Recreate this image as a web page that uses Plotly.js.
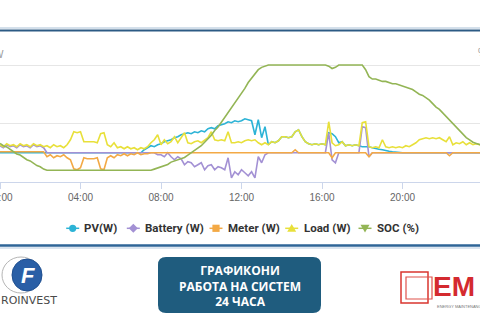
<!DOCTYPE html>
<html>
<head>
<meta charset="utf-8">
<script src="https://cdn.plot.ly/plotly-3.0.1.min.js"></script>
<style>
html,body{margin:0;padding:0;background:#fff;overflow:hidden;}
#chart{width:480px;height:320px;}
</style>
</head>
<body>
<div id="chart"></div>
<script>
// ---- data (10-minute samples, 00:00 .. 24:00) ----
const seriesNames = ["PV(W)", "Battery (W)", "Meter (W)", "Load (W)", "SOC (%)"];
const tickLabels = ["00:00", "04:00", "08:00", "12:00", "16:00", "20:00"];

const pv = [
  0,0,0,0,0,0,0,0,0,0,0,0,0,0,0,0,0,0,0,0,0,0,0,0,0,0,0,0,0,0,0,0,0,0,0,0,0,0,0,0,0,0,0,
  51,86,120,103,137,154,188,205,222,257,274,308,325,342,325,359,342,376,359,410,428,410,462,479,496,530,513,547,530,547,581,564,547,308,564,257,445,
  137,188,171,205,274,274,257,274,359,393,274,188,154,137,154,137,154,137,
  342,325,274,171,
  188,120,137,120,137,120,
  103,103,103,86,68,60,51,34,26,17,9,
  0,0,0,0,0,0,0,0,0,0,0,0,0,0,0,0,0,0,0,0,0,0,0,0,0,0
];
const battery = [
  120,86,137,103,120,86,137,103,120,86,137,103,120,86,
  0,0,0,0,0,0,0,0,0,0,0,0,0,0,0,0,0,0,0,0,0,0,0,0,0,0,0,0,0,0,0,0,0,
  -34,-34,-68,0,-68,-120,-68,-103,-205,-154,-171,-239,-205,-171,-291,-222,-205,-291,-239,-257,-291,-86,-428,-325,-376,-291,-342,-393,-325,-428,-68,-171,-34,
  0,0,0,0,0,0,0,0,0,0,0,0,0,0,0,0,0,0,
  342,-120,-171,0,
  0,0,0,0,0,0,
  445,428,-68,
  0,0,0,0,0,0,0,0,0,0,0,0,0,0,0,0,0,0,0,0,0,0,0,0,0,0,0,0,0,0,0,0,0,0
];
const meter = [
  17,17,17,17,17,17,17,17,17,17,17,17,17,17,
  -68,-34,-86,-51,-68,-34,-86,-120,-274,-291,-257,-86,-103,-103,-103,-86,-274,-291,-86,-51,-86,-34,-51,-17,-51,-17,-34,0,-34,-17,-17,
  0,0,0,0,0,0,0,0,0,0,0,0,0,0,0,0,0,0,0,0,0,0,0,0,0,0,0,0,0,0,0,0,0,0,0,0,0,0,0,0,0,0,0,
  51,
  0,0,0,0,0,0,0,0,0,0,
  -86,
  0,0,0,0,0,0,0,0,0,0,
  -68,
  0,0,0,0,0,0,0,0,0,0,0,0,0,0,0,0,0,0,0,0,0,0,0,
  -51,
  0,0,0,0,0,0,0,0,0,0
];
const load = [
  137,103,154,120,137,103,154,120,137,103,154,120,137,103,
  120,86,137,103,120,86,137,
  222,359,342,359,188,188,188,188,171,325,342,137,103,171,86,103,68,103,68,86,51,86,68,103,
  171,222,308,137,222,154,188,274,171,257,342,171,154,188,205,171,222,257,359,222,205,222,205,359,171,171,188,171,205,222,205,222,171,137,171,
  137,188,171,205,274,274,257,274,359,393,274,188,154,137,154,137,154,137,
  530,171,120,137,
  188,120,137,120,137,120,
  513,530,103,86,103,86,222,103,86,103,86,103,86,120,103,137,171,222,239,257,239,257,239,257,222,188,274,137,171,154,188,137,171,137,154,137,137
];
const soc = [
  33,31,30,28,26,24,23,21,19,18,16,14,13,11,
  10,10,10,10,10,10,10,10,10,10,10,10,10,10,10,10,10,10,10,10,10,10,10,10,10,10,10,10,10,10,10,10,
  11,12,13,14,15,17,18,19,20,21,23,25,27,29,31,34,37,40,44,47,51,55,59,63,67,71,75,80,85,89,93,96,98,99,
  100,100,100,100,100,100,100,100,100,100,100,100,100,100,100,100,100,100,
  99,97,98,100,
  100,100,100,100,100,100,100,
  96,90,88,88,87,86,86,85,84,84,83,82,81,80,79,77,75,74,72,70,67,64,62,59,56,53,50,47,44,41,38,36,34,33,32,31
];

// time stamps for the samples
const times = [];
for (let i = 0; i < soc.length; i++) {
  const d = new Date(Date.UTC(2024, 0, 1, 0, i * 10));
  times.push(d.toISOString().slice(0, 16).replace('T', ' '));
}

const colors = ["#2cb3d6", "#a391d4", "#f3a945", "#e8e03a", "#93b555"];
const seriesData = [pv, battery, meter, load, soc];

const SANS = "'Liberation Sans', Arial, sans-serif";
const LEG = "Roboto, 'Liberation Sans', Arial, sans-serif";

const traces = seriesData.map((vals, k) => ({
  x: times, y: vals, type: 'scatter', mode: 'lines', name: seriesNames[k],
  line: {color: colors[k], width: 1.6},
  yaxis: k === 4 ? 'y2' : 'y',
  hoverinfo: 'skip'
}));

// px helpers for layout decorations (plot area: y 45..182, x 0..480)
const PX = x => x / 480;
const PY = y => (182 - y) / 137;

function roundRect(x0, y0, x1, y1, r) {
  const a = PX(x0), b = PX(x1), t = PY(y0), u = PY(y1);
  const rx = r / 480, ry = r / 137;
  return `M${a+rx},${t} L${b-rx},${t} Q${b},${t} ${b},${t-ry} L${b},${u+ry} Q${b},${u} ${b-rx},${u} L${a+rx},${u} Q${a},${u} ${a},${u+ry} L${a},${t-ry} Q${a},${t} ${a+rx},${t} Z`;
}
function poly(pts) {
  return 'M' + pts.map(p => PX(p[0]) + ',' + PY(p[1])).join(' L') + ' Z';
}

const shapes = [
  {type:'line', xref:'paper', yref:'paper', x0:0, x1:1, y0:PY(28), y1:PY(28), line:{color:'#a9c0d6', width:1}},
  {type:'line', xref:'paper', yref:'paper', x0:0, x1:1, y0:PY(30.5), y1:PY(30.5), line:{color:'#2c5a84', width:2}},
  {type:'line', xref:'paper', yref:'paper', x0:0, x1:1, y0:PY(245.5), y1:PY(245.5), line:{color:'#2e6597', width:2.5}},
  {type:'line', xref:'paper', yref:'paper', x0:0, x1:1, y0:PY(248), y1:PY(248), line:{color:'#b7cbe0', width:1}},
  {type:'path', xref:'paper', yref:'paper', path: roundRect(158, 257, 321, 313, 8), fillcolor:'#1f5c7e', line:{width:0}},
  {type:'circle', xref:'paper', yref:'paper', x0:PX(2), x1:PX(40), y0:PY(257), y1:PY(293), line:{color:'#b5b5b5', width:1}},
  {type:'circle', xref:'paper', yref:'paper', x0:PX(12), x1:PX(42), y0:PY(259), y1:PY(291), fillcolor:'#2a5fa6', line:{color:'#1f4f90', width:1}},
  {type:'rect', xref:'paper', yref:'paper', x0:PX(401), x1:PX(428), y0:PY(272), y1:PY(303), line:{color:'#d9362f', width:1.5}},
  {type:'rect', xref:'paper', yref:'paper', x0:PX(406), x1:PX(432), y0:PY(277), y1:PY(299), line:{color:'#e0524b', width:1.2}}
];

// custom legend row (symbol line + marker + label)
const LY = 228.3;
const legendItems = [
  {cx: 72.7, tx: 83},
  {cx: 133.3, tx: 144},
  {cx: 216, tx: 226.5},
  {cx: 291.7, tx: 302.5},
  {cx: 365, tx: 375.5}
];
const annotations = [];
legendItems.forEach((it, k) => {
  const c = colors[k];
  shapes.push({type:'line', xref:'paper', yref:'paper', x0:PX(it.cx-6.5), x1:PX(it.cx+6.5), y0:PY(LY), y1:PY(LY), line:{color:c, width:1.5}});
  const cx = it.cx, cy = LY;
  if (k === 0) shapes.push({type:'circle', xref:'paper', yref:'paper', x0:PX(cx-3.6), x1:PX(cx+3.6), y0:PY(cy-3.6), y1:PY(cy+3.6), fillcolor:c, line:{color:c, width:0}});
  if (k === 1) shapes.push({type:'path', xref:'paper', yref:'paper', path: poly([[cx,cy-4.5],[cx+4.5,cy],[cx,cy+4.5],[cx-4.5,cy]]), fillcolor:c, line:{color:c, width:0}});
  if (k === 2) shapes.push({type:'rect', xref:'paper', yref:'paper', x0:PX(cx-3.6), x1:PX(cx+3.6), y0:PY(cy-3.6), y1:PY(cy+3.6), fillcolor:c, line:{color:c, width:0}});
  if (k === 3) shapes.push({type:'path', xref:'paper', yref:'paper', path: poly([[cx,cy-4.3],[cx+4.5,cy+3.5],[cx-4.5,cy+3.5]]), fillcolor:c, line:{color:c, width:0}});
  if (k === 4) shapes.push({type:'path', xref:'paper', yref:'paper', path: poly([[cx-4.5,cy-3.5],[cx+4.5,cy-3.5],[cx,cy+4.3]]), fillcolor:c, line:{color:c, width:0}});
  annotations.push({xref:'paper', yref:'paper', x:PX(it.tx), xanchor:'left', y:PY(LY), yanchor:'middle',
    text:'<b>' + seriesNames[k] + '</b>', showarrow:false, borderpad:0,
    font:{family:LEG, size:11.5, color:'#333333'}});
});

const FOOT = "'Open Sans', 'Noto Sans', sans-serif";
annotations.push(
  {xref:'paper', yref:'paper', x:0.5, xanchor:'center', y:PY(285.5), yanchor:'middle', align:'center',
   text:'<b>ГРАФИКОНИ<br>РАБОТА НА СИСТЕМ<br>24 ЧАСА</b>', showarrow:false, font:{family:FOOT, size:12, color:'#ffffff'}},
  {xref:'paper', yref:'paper', x:PX(28), xanchor:'center', y:PY(275), yanchor:'middle', text:'<b><i>F</i></b>', showarrow:false, font:{family:SANS, size:22, color:'#ffffff'}},
  {xref:'paper', yref:'paper', x:PX(-1), xanchor:'left', y:PY(300.5), yanchor:'middle', text:'ROINVEST', showarrow:false, font:{family:"'DejaVu Sans', sans-serif", size:11, color:'#4a4a4a'}},
  {xref:'paper', yref:'paper', x:PX(432), xanchor:'left', y:PY(286), yanchor:'middle', text:'<b>EM</b>', showarrow:false, borderpad:0, font:{family:SANS, size:28, color:'#d42a2f'}},
  {xref:'paper', yref:'paper', x:PX(436), xanchor:'left', y:PY(306), yanchor:'middle', text:'ENERGY MAINTENANCE', showarrow:false, borderpad:0, font:{family:SANS, size:4, color:'#777'}},
  {xref:'paper', yref:'paper', x:PX(-1), xanchor:'center', y:PY(54), yanchor:'middle', text:'W', showarrow:false, font:{family:SANS, size:10, color:'#999'}},
  {xref:'paper', yref:'paper', x:PX(482), xanchor:'center', y:PY(52), yanchor:'middle', text:'%', showarrow:false, font:{family:SANS, size:10, color:'#999'}}
);

const layout = {
  width: 480, height: 320,
  margin: {l: 0, r: 0, t: 45, b: 138, pad: 0},
  paper_bgcolor: '#ffffff', plot_bgcolor: '#ffffff',
  showlegend: false,
  xaxis: {
    type: 'date',
    range: ['2024-01-01 00:00', '2024-01-01 23:51'],
    tickmode: 'array',
    tickvals: tickLabels.map(t => '2024-01-01 ' + t),
    ticktext: tickLabels,
    showgrid: false, zeroline: false,
    showline: true, linecolor: '#ccd6eb', linewidth: 1,
    ticks: 'outside', ticklen: 6, tickcolor: '#ccd6eb',
    tickfont: {family: SANS, size: 10, color: '#666666'},
    ticklabeloverflow: 'allow'
  },
  yaxis: {
    range: [-500, 1842], tick0: -500, dtick: 1000,
    showgrid: true, gridcolor: '#e6e6e6', gridwidth: 1,
    zeroline: false, showticklabels: false, ticks: '', showline: false
  },
  yaxis2: {
    overlaying: 'y', side: 'right', range: [0, 117.1],
    showgrid: false, zeroline: false, showticklabels: false, ticks: '', showline: false
  },
  shapes: shapes,
  annotations: annotations
};

Plotly.newPlot('chart', traces, layout, {staticPlot: true, displayModeBar: false});
</script>
</body>
</html>
